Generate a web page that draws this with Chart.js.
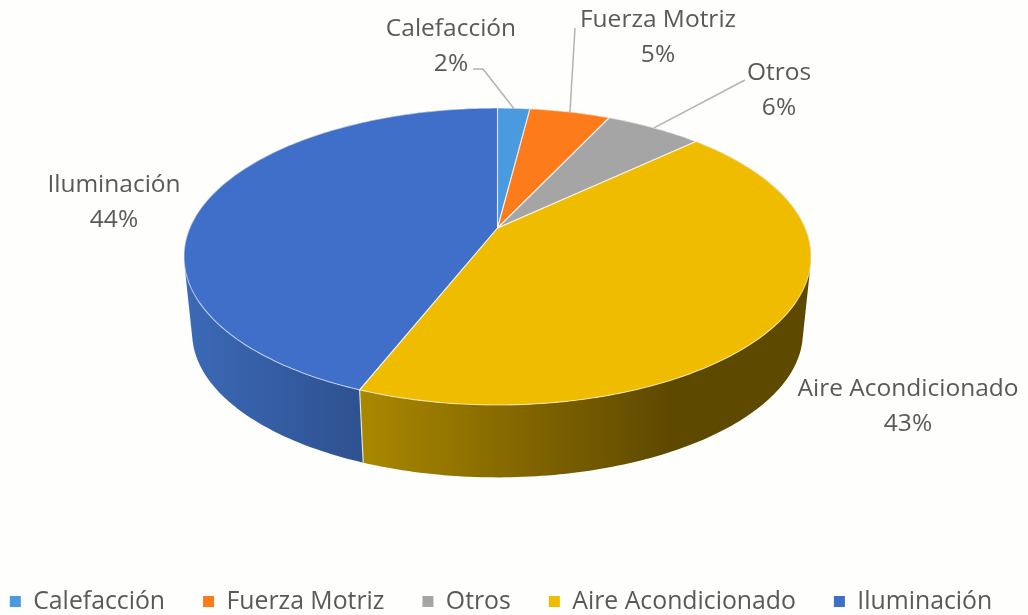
<!DOCTYPE html>
<html>
<head>
<meta charset="utf-8">
<style>html,body{margin:0;padding:0;background:#fefefd}#w{width:1028px;height:615px;position:relative}</style>
<script src="https://cdn.jsdelivr.net/npm/chart.js@4"></script>
</head>
<body>
<div id="w"><canvas id="c" width="1028" height="615"></canvas></div>
<script>
const categories = ["Calefacción", "Fuerza Motriz", "Otros", "Aire Acondicionado", "Iluminación"];
const shares = [2, 5, 6, 43, 44];
const sliceColors = ["#4a9ae0", "#fd7b1b", "#a5a5a5", "#f0bc00", "#3f6fc8"];
const FONT = '"Open Sans"';
const TEXT = "#595959";

// Perspective of the disc, applied to the angles the pie controller computes
const CX = 497.5, TOPY = 228, BOTY = 305, SX = 307.7, SY = 143, K = 0.192, BOTS = 0.974;
function project(angle, bottom) {
  const t = angle + Math.PI / 2, u = Math.sin(t), v = Math.cos(t), w = 1 + K * v;
  const s = bottom ? BOTS : 1, y0 = bottom ? BOTY : TOPY;
  return [CX + s * SX * u / w, y0 - s * SY * v / w];
}
function arcPts(a0, a1, bottom) {
  const n = Math.max(2, Math.ceil((a1 - a0) * 60)), pts = [];
  for (let i = 0; i <= n; i++) pts.push(project(a0 + (a1 - a0) * i / n, bottom));
  return pts;
}
const wallStops = {
  3: {x0: 362, x1: 670, stops: [[0, "#a98800"], [0.55, "#806400"], [1, "#5e4900"]]},
  4: {x0: 190, x1: 362, stops: [[0, "#3b69b6"], [1, "#2e5190"]]}
};
// label centres [x, firstLineY, secondLineY]
const labelPos = [[451, 29, 64], [658, 20, 55], [779, 73, 108], [908, 389, 424], [114, 185, 220]];
// leader start points, optional elbow
const leaders = {0: [[473, 69], [483, 69]], 1: [[575, 28]], 2: [[745, 80]]};

const pie3d = {
  id: "pie3d",
  beforeDatasetsDraw(chart) {
    const ctx = chart.ctx, arcs = chart.getDatasetMeta(0).data;
    ctx.save();
    // side walls: every strip joins the top rim to the bottom rim
    arcs.forEach((arc, i) => {
      const top = arcPts(arc.startAngle, arc.endAngle, false), bot = arcPts(arc.startAngle, arc.endAngle, true);
      ctx.beginPath();
      for (let j = 0; j + 1 < top.length; j++) {
        const q = [top[j], top[j + 1], bot[j + 1], bot[j]];
        let area = 0;
        q.forEach((p, n) => { const r = q[(n + 1) % 4]; area += p[0] * r[1] - r[0] * p[1]; });
        if (area < 0) q.reverse();
        q.forEach((p, n) => n ? ctx.lineTo(p[0], p[1]) : ctx.moveTo(p[0], p[1]));
        ctx.closePath();
      }
      const g = wallStops[i];
      if (g) {
        const lg = ctx.createLinearGradient(g.x0, 0, g.x1, 0);
        g.stops.forEach(s => lg.addColorStop(s[0], s[1]));
        ctx.fillStyle = lg;
      } else ctx.fillStyle = arc.options.backgroundColor;
      ctx.fill("nonzero");
    });
    // wall seam
    arcs.forEach(arc => {
      const a = project(arc.startAngle, false), b = project(arc.startAngle, true);
      if (a[1] > 300) {
        ctx.beginPath(); ctx.moveTo(a[0], a[1]); ctx.lineTo(b[0], b[1]);
        ctx.strokeStyle = "rgba(255,255,255,0.75)"; ctx.lineWidth = 1.2; ctx.stroke();
      }
    });
    // top faces
    arcs.forEach(arc => {
      const pts = arcPts(arc.startAngle, arc.endAngle, false);
      ctx.beginPath(); ctx.moveTo(CX, TOPY);
      pts.forEach(p => ctx.lineTo(p[0], p[1]));
      ctx.closePath();
      ctx.fillStyle = arc.options.backgroundColor;
      ctx.fill();
    });
    // light edges
    ctx.lineJoin = "round";
    arcs.forEach(arc => {
      const pts = arcPts(arc.startAngle, arc.endAngle, false);
      ctx.beginPath(); ctx.moveTo(CX, TOPY);
      pts.forEach(p => ctx.lineTo(p[0], p[1]));
      ctx.closePath();
      ctx.strokeStyle = "rgba(255,255,255,0.6)"; ctx.lineWidth = 1.1;
      ctx.stroke();
    });
    // leader lines
    ctx.strokeStyle = "#b3b3b3"; ctx.lineWidth = 1.5;
    Object.keys(leaders).forEach(k => {
      const arc = arcs[k], end = project((arc.startAngle + arc.endAngle) / 2, false);
      ctx.beginPath();
      leaders[k].forEach((p, j) => j ? ctx.lineTo(p[0], p[1]) : ctx.moveTo(p[0], p[1]));
      ctx.lineTo(end[0], end[1]);
      ctx.stroke();
    });
    // labels
    const total = shares.reduce((a, b) => a + b, 0);
    ctx.fillStyle = TEXT;
    ctx.font = "24.5px " + FONT;
    ctx.textAlign = "center"; ctx.textBaseline = "middle";
    categories.forEach((c, i) => {
      const [x, y1, y2] = labelPos[i];
      ctx.fillText(c, x, y1);
      ctx.fillText(Math.round(shares[i] / total * 100) + "%", x, y2);
    });
    ctx.restore();
    return false;
  }
};

new Chart(document.getElementById("c"), {
  type: "pie",
  data: {labels: categories, datasets: [{data: shares, backgroundColor: sliceColors, borderWidth: 0}]},
  options: {
    responsive: false,
    animation: false,
    layout: {padding: {left: -40, right: -14, bottom: -9}},
    plugins: {
      tooltip: {enabled: false},
      legend: {
        position: "bottom",
        labels: {boxWidth: 11, boxHeight: 11, padding: 38, color: TEXT, font: {family: FONT, size: 24.8}}
      }
    }
  },
  plugins: [pie3d]
});
</script>
</body>
</html>
